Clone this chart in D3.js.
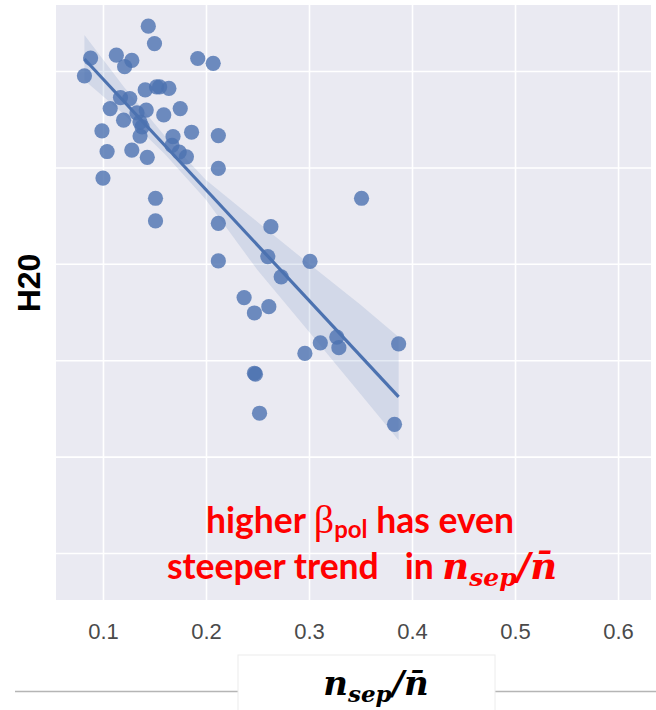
<!DOCTYPE html>
<html><head><meta charset="utf-8">
<script src="https://cdn.jsdelivr.net/npm/d3@7"></script>
<style>body{margin:0;background:#fff;} svg{display:block;} text{white-space:pre;}</style>
</head><body>
<svg id="c" width="656" height="710"></svg>
<script>
// data
const xVals = [0.144,0.150,0.088,0.113,0.128,0.121,0.192,0.207,0.082,0.141,0.152,0.155,0.164,0.117,0.126,0.107,0.142,0.175,0.159,0.120,0.136,0.138,0.099,0.136,0.168,0.186,0.212,0.104,0.128,0.143,0.167,0.174,0.181,0.212,0.100,0.151,0.351,0.151,0.212,0.263,0.212,0.260,0.301,0.273,0.237,0.247,0.261,0.311,0.327,0.329,0.296,0.387,0.247,0.248,0.252,0.383,0.133];
const yVals = [1.493,1.457,1.427,1.433,1.422,1.409,1.426,1.416,1.390,1.361,1.367,1.367,1.364,1.345,1.343,1.322,1.319,1.322,1.309,1.298,1.294,1.284,1.276,1.265,1.264,1.273,1.266,1.233,1.236,1.221,1.246,1.232,1.222,1.198,1.178,1.136,1.136,1.089,1.084,1.077,1.006,1.015,1.005,0.973,0.930,0.898,0.911,0.836,0.848,0.826,0.814,0.834,0.773,0.771,0.690,0.667,1.313];
const fitX = [0.082, 0.387];
const fitY = [1.425, 0.724];
const bandX  = [0.082, 0.12, 0.16, 0.20, 0.25, 0.30, 0.35, 0.387];
const bandHi = [1.475, 1.368, 1.265, 1.174, 1.087, 1.000, 0.915, 0.848];
const bandLo = [1.381, 1.311, 1.228, 1.133, 0.987, 0.859, 0.730, 0.634];
const xTicks = [0.1, 0.2, 0.3, 0.4, 0.5, 0.6];
const yTicks = [0.4, 0.6, 0.8, 1.0, 1.2, 1.4];

const svg = d3.select("#c");
const L = 56, R = 651, T = 5, B = 600;
const x = d3.scaleLinear().domain([0.0544, 0.632]).range([L, R]);
const y = d3.scaleLinear().domain([0.3025, 1.537]).range([B, T]);
const blue = "#4C72B0";

svg.append("rect").attr("x", L).attr("y", T).attr("width", R - L).attr("height", B - T).attr("fill", "#EAEAF2");

// grid
const gx = svg.append("g").attr("transform", `translate(0,${B})`)
  .call(d3.axisBottom(x).tickValues(xTicks).tickSize(-(B - T)).tickFormat(""));
gx.select(".domain").remove();
gx.selectAll("line").attr("stroke", "#fff").attr("stroke-width", 1.6);
const gy = svg.append("g").attr("transform", `translate(${L},0)`)
  .call(d3.axisLeft(y).tickValues(yTicks).tickSize(-(R - L)).tickFormat(""));
gy.select(".domain").remove();
gy.selectAll("line").attr("stroke", "#fff").attr("stroke-width", 1.6);

// tick labels
const xl = svg.append("g").attr("transform", `translate(0,${B + 20})`)
  .call(d3.axisBottom(x).tickValues(xTicks).tickSize(0).tickFormat(d3.format(".1f")));
xl.select(".domain").remove();
xl.selectAll("text").attr("font-family", "Liberation Sans, Arial, sans-serif").attr("font-size", 22).attr("fill", "#4a4a4a");

// band
const bandData = bandX.map((d, i) => ({x: d, lo: bandLo[i], hi: bandHi[i]}));
svg.append("path").datum(bandData)
  .attr("d", d3.area().x(d => x(d.x)).y0(d => y(d.lo)).y1(d => y(d.hi)))
  .attr("fill", blue).attr("fill-opacity", 0.15);

// points
svg.append("g").selectAll("circle").data(xVals.map((d, i) => [d, yVals[i]])).join("circle")
  .attr("cx", d => x(d[0])).attr("cy", d => y(d[1])).attr("r", 7.6)
  .attr("fill", blue).attr("fill-opacity", 0.8);

// fit line
svg.append("path").datum(fitX.map((d, i) => [d, fitY[i]]))
  .attr("d", d3.line().x(d => x(d[0])).y(d => y(d[1])))
  .attr("stroke", blue).attr("stroke-width", 3.2).attr("fill", "none");

// y label
svg.append("text").attr("transform", "translate(40,283) rotate(-90)")
  .attr("text-anchor", "middle").attr("font-family", "Liberation Sans, Arial, sans-serif")
  .attr("font-weight", "bold").attr("font-size", 32).attr("fill", "#000").text("H20");

// annotation (one text element, two centred lines)
const red = "#FF0000";
const sansB = "Lato, 'Open Sans', sans-serif";
const serif = "'Liberation Serif', serif";
const mathF = "'DejaVu Serif', serif";
const t1 = svg.append("text").attr("y", 533).attr("text-anchor", "middle")
  .attr("fill", red).attr("font-family", sansB).attr("font-weight", "bold").attr("font-size", 35.5);
t1.append("tspan").attr("x", 360).text("higher ");
t1.append("tspan").attr("font-family", serif).attr("font-weight", "normal").attr("font-size", 40).text("β");
t1.append("tspan").attr("font-size", 24).attr("dy", 5).text("pol");
t1.append("tspan").attr("dy", -5).text(" has even");
t1.append("tspan").attr("x", 362).attr("dy", 46).text("steeper trend   in ");
t1.append("tspan").attr("font-family", mathF).attr("font-style", "italic").attr("font-size", 37).text("n");
t1.append("tspan").attr("font-family", mathF).attr("font-style", "italic").attr("font-size", 25).attr("dy", 7).text("sep");
t1.append("tspan").attr("font-family", mathF).attr("font-style", "italic").attr("font-size", 37).attr("dy", -7).text("/n\u0304");

// bottom rule and label box
svg.append("line").attr("x1", 15).attr("x2", 656).attr("y1", 691.5).attr("y2", 691.5).attr("stroke", "#b5b5b5").attr("stroke-width", 1.3);
svg.append("rect").attr("x", 238).attr("y", 655).attr("width", 257).attr("height", 60).attr("fill", "#fff").attr("stroke", "#ececec");
const t3 = svg.append("text").attr("x", 376).attr("y", 695).attr("text-anchor", "middle")
  .attr("fill", "#000").attr("font-family", mathF).attr("font-style", "italic").attr("font-weight", "bold").attr("font-size", 34);
t3.append("tspan").text("n");
t3.append("tspan").attr("font-size", 23).attr("dy", 7).text("sep");
t3.append("tspan").attr("dy", -7).text("/n\u0304");
</script>
</body></html>
